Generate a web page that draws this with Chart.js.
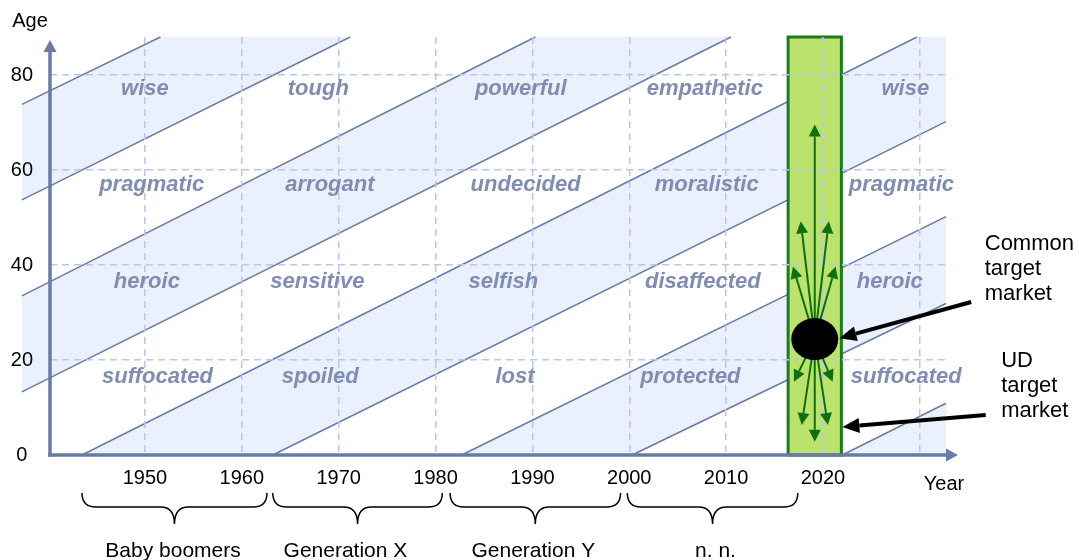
<!DOCTYPE html>
<html>
<head>
<meta charset="utf-8">
<script src="https://cdn.jsdelivr.net/npm/chart.js@4.4.1/dist/chart.umd.min.js"></script>
<style>
  html, body { margin: 0; padding: 0; background: #fff; }
  canvas { display: block; }
</style>
</head>
<body>
<canvas id="chart" width="1079" height="560"></canvas>
<script>
// Axis ticks
const yearTicks = [1950, 1960, 1970, 1980, 1990, 2000, 2010, 2020, 2030];
const yearLabels = ['1950', '1960', '1970', '1980', '1990', '2000', '2010', '2020', ''];
const ageTicks = [0, 20, 40, 60, 80];

// Cohort lines, [start, end] as [year, age]
const cohortLines = [
  [[1937.3, 73.8], [1951.6, 88]],
  [[1937.3, 53.7], [1971.2, 88]],
  [[1937.3, 33.5], [1990.3, 88]],
  [[1937.3, 13.3], [2010.5, 88]],
  [[1943.5, 0], [2029.7, 88]],
  [[1963.2, 0], [2032.7, 70.2]],
  [[1982.7, 0], [2032.7, 50.2]],
  [[2000.3, 0], [2032.7, 31.9]],
  [[2022.0, 0], [2032.7, 10.9]]
];
// shaded gaps between cohort lines (null = down to the year axis)
const shadedBands = [[0, 1], [2, 3], [4, 5], [6, 7], [8, null]];

// Attributes per age row and column
const wordAges = [75.8, 55.6, 35.2, 15.2];
const words = [
  ['wise', 'tough', 'powerful', 'empathetic', 'wise'],
  ['pragmatic', 'arrogant', 'undecided', 'moralistic', 'pragmatic'],
  ['heroic', 'sensitive', 'selfish', 'disaffected', 'heroic'],
  ['suffocated', 'spoiled', 'lost', 'protected', 'suffocated']
];
const wordYears = [
  [1950.0, 1967.9, 1988.8, 2007.8, 2028.5],
  [1950.7, 1969.1, 1989.3, 2008.0, 2028.1],
  [1950.2, 1967.8, 1987.0, 2007.6, 2026.9],
  [1951.3, 1968.1, 1988.2, 2006.3, 2028.6]
];

// Generations
const generations = ['Baby boomers', 'Generation X', 'Generation Y', 'n. n.'];
const generationSpans = [[1943.5, 1962.6], [1963.2, 1980.7], [1981.5, 1999.1], [1999.8, 2017.4]];
const generationLabelYears = [1952.9, 1970.7, 1990.1, 2008.9];

// Target market
const targetYears = [2016.4, 2021.9];
const targetAges = [0, 88];
const marketCenter = [2019.15, 24.4];
const spreadTips = [
  [2019.15, 69.6], [2017.7, 49.2], [2020.6, 49.2], [2016.9, 39.7], [2021.3, 39.7],
  [2017.0, 15.4], [2021.0, 15.4], [2017.8, 6.3], [2020.5, 6.3], [2019.15, 2.8]
];
const callouts = [
  { lines: ['Common', 'target', 'market'], tip: [2021.7, 24.6], tail: [2035.3, 32.2], at: [2036.7, 43.2] },
  { lines: ['UD', 'target', 'market'], tip: [2022.0, 5.9], tail: [2036.8, 8.4], at: [2038.4, 18.6] }
];

const X_MIN = 1940.2, X_MAX = 2032.7, Y_MAX = 88;
const axisColor = '#6a7aa6';
const gridColor = '#b8c8ec';
const wordColor = '#7f8db3';

const toXY = p => ({ x: p[0], y: p[1] });

function bandPolygon(a, b) {
  const A = cohortLines[a];
  const pts = [A[0], A[1]];
  if (b === null) {
    pts.push([X_MAX, 0]);
    return pts;
  }
  const B = cohortLines[b];
  if (A[1][1] === Y_MAX && B[1][0] === X_MAX) pts.push([X_MAX, Y_MAX]);
  pts.push(B[1], B[0]);
  return pts;
}

const common = { pointRadius: 0, tension: 0, clip: false };
const datasets = [];
datasets.push(Object.assign({
  data: [
    [targetYears[0], targetAges[0]], [targetYears[0], targetAges[1]],
    [targetYears[1], targetAges[1]], [targetYears[1], targetAges[0]],
    [targetYears[0], targetAges[0]], [targetYears[0], targetAges[1]]
  ].map(toXY),
  fill: 'shape', backgroundColor: '#bbe36c', borderColor: '#1f7a1f', borderWidth: 3, order: 1
}, common));
cohortLines.forEach(l => datasets.push(Object.assign({
  data: l.map(toXY), fill: false, borderColor: axisColor, borderWidth: 1.5, order: 2
}, common)));
shadedBands.forEach(([a, b]) => datasets.push(Object.assign({
  data: bandPolygon(a, b).map(toXY), fill: 'shape', backgroundColor: '#eaf1fd',
  borderColor: 'transparent', borderWidth: 0, order: 3
}, common)));

function arrow(ctx, x0, y0, x1, y1, lw, len, half, color) {
  const ang = Math.atan2(y1 - y0, x1 - x0);
  const bx = x1 - Math.cos(ang) * len, by = y1 - Math.sin(ang) * len;
  ctx.strokeStyle = color;
  ctx.fillStyle = color;
  ctx.lineWidth = lw;
  ctx.beginPath();
  ctx.moveTo(x0, y0);
  ctx.lineTo(bx, by);
  ctx.stroke();
  ctx.beginPath();
  ctx.moveTo(x1, y1);
  ctx.lineTo(bx + Math.sin(ang) * half, by - Math.cos(ang) * half);
  ctx.lineTo(bx - Math.sin(ang) * half, by + Math.cos(ang) * half);
  ctx.closePath();
  ctx.fill();
}

// the filler clips to the chart area, but the shaded plane starts left of the age axis
const unclipFill = {
  id: 'unclipFill',
  beforeDatasetsDraw(chart) {
    this.saved = Object.assign({}, chart.chartArea);
    Object.assign(chart.chartArea, { left: 0, top: 0, right: chart.width, bottom: chart.height });
  },
  afterDatasetsDraw(chart) {
    Object.assign(chart.chartArea, this.saved);
  }
};

const annotations = {
  id: 'annotations',
  afterDraw(chart) {
    const { ctx, chartArea: a, scales: { x, y } } = chart;
    const px = v => x.getPixelForValue(v);
    const py = v => y.getPixelForValue(v);
    ctx.save();

    // axes with arrow heads
    ctx.lineCap = 'butt';
    arrow(ctx, a.left, a.bottom + 1.7, a.left, a.top + 3, 3.5, 12, 6.5, axisColor);
    arrow(ctx, a.left - 1.7, a.bottom, a.right + 12, a.bottom, 3.5, 12, 6.5, axisColor);

    // spreading arrows and market
    const cx = px(marketCenter[0]), cy = py(marketCenter[1]);
    spreadTips.forEach(t => arrow(ctx, cx, cy, px(t[0]), py(t[1]), 2, 12, 6, '#0f6f0f'));
    ctx.fillStyle = '#000';
    ctx.beginPath();
    ctx.ellipse(cx, cy, 23.5, 21, 0, 0, Math.PI * 2);
    ctx.fill();

    // callouts
    ctx.font = '22px "Liberation Sans", Arial, sans-serif';
    ctx.textAlign = 'left';
    ctx.textBaseline = 'alphabetic';
    callouts.forEach(c => {
      arrow(ctx, px(c.tail[0]), py(c.tail[1]), px(c.tip[0]), py(c.tip[1]), 4, 17, 7.5, '#000');
      ctx.fillStyle = '#000';
      c.lines.forEach((s, i) => ctx.fillText(s, px(c.at[0]), py(c.at[1]) + i * 25));
    });

    // attribute words
    ctx.font = 'italic bold 22px "Liberation Sans", Arial, sans-serif';
    ctx.fillStyle = wordColor;
    ctx.textAlign = 'center';
    words.forEach((row, r) => row.forEach((w, c) => {
      ctx.fillText(w, px(wordYears[r][c]), py(wordAges[r]));
    }));

    // axis titles
    ctx.fillStyle = '#000';
    ctx.font = '20px "Liberation Sans", Arial, sans-serif';
    ctx.fillText('Age', 30, 27);
    ctx.fillText('Year', a.right - 2, a.bottom + 35);

    // generation braces
    ctx.strokeStyle = '#000';
    ctx.lineWidth = 1.5;
    const top = a.bottom + 38, mid = a.bottom + 52, tip = a.bottom + 69, r = 14;
    generationSpans.forEach(([s0, s1]) => {
      const x0 = px(s0), x1 = px(s1), xc = (x0 + x1) / 2;
      ctx.beginPath();
      ctx.moveTo(x0, top);
      ctx.quadraticCurveTo(x0, mid, x0 + r, mid);
      ctx.lineTo(xc - r, mid);
      ctx.quadraticCurveTo(xc, mid, xc, tip);
      ctx.quadraticCurveTo(xc, mid, xc + r, mid);
      ctx.lineTo(x1 - r, mid);
      ctx.quadraticCurveTo(x1, mid, x1, top);
      ctx.stroke();
    });
    ctx.font = '21px "Liberation Sans", Arial, sans-serif';
    generations.forEach((g, i) => ctx.fillText(g, px(generationLabelYears[i]), a.bottom + 102));

    ctx.restore();
  }
};

Chart.defaults.font.family = '"Liberation Sans", Arial, sans-serif';

new Chart(document.getElementById('chart').getContext('2d'), {
  type: 'line',
  data: { datasets },
  options: {
    responsive: false,
    animation: false,
    layout: { padding: { top: 37, right: 133, left: 0, bottom: 0 } },
    plugins: { legend: { display: false }, tooltip: { enabled: false } },
    scales: {
      x: {
        type: 'linear', min: X_MIN, max: X_MAX,
        afterFit: s => { s.height = 105; },
        afterBuildTicks: s => { s.ticks = yearTicks.map(v => ({ value: v })); },
        ticks: {
          callback: (v, i) => yearLabels[i], color: '#000', font: { size: 20 },
          padding: 11, maxRotation: 0, autoSkip: false, z: 1
        },
        grid: { color: gridColor, lineWidth: 1.5, drawTicks: false, z: 1 },
        border: { display: false, dash: [7, 5] }
      },
      y: {
        min: 0, max: Y_MAX,
        afterFit: s => { s.width = 50; },
        afterBuildTicks: s => { s.ticks = ageTicks.map(v => ({ value: v })); },
        ticks: { color: '#000', font: { size: 20 }, crossAlign: 'center', padding: 17, z: 1 },
        grid: {
          color: c => (c.tick && c.tick.value === 0 ? 'transparent' : gridColor),
          lineWidth: 1.5, drawTicks: false, z: 1
        },
        border: { display: false, dash: [7, 5] }
      }
    }
  },
  plugins: [unclipFill, annotations]
});
</script>
</body>
</html>
